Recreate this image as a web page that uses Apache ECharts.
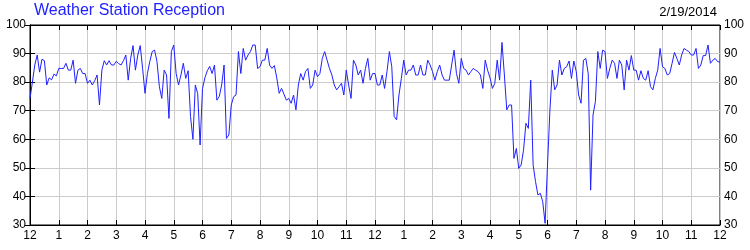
<!DOCTYPE html>
<html><head><meta charset="utf-8">
<script src="https://cdn.jsdelivr.net/npm/echarts@6/dist/echarts.min.js"></script>
<style>html,body{margin:0;padding:0;background:#fff}#c{width:750px;height:250px}</style>
</head><body><div id="c"></div>
<script>
// Reception (%) sampled every 5 minutes, hour by hour (12 samples per hour), from 12 AM to 12 AM
const hour00 = [74.3, 80, 86, 89.5, 83.5, 88, 87.5, 79, 81.5, 80.8, 82.8, 82.2];
const hour01 = [84.8, 84.8, 84.8, 86.6, 84.2, 84.2, 87.7, 79.6, 84.2, 84.8, 83, 83];
const hour02 = [79.6, 80.7, 79, 80.5, 82.5, 72, 84.2, 87.5, 86, 87.5, 86, 86];
const hour03 = [87.3, 86.5, 86, 87.5, 89.5, 80.7, 88.3, 92.8, 84.2, 89.5, 92.8, 84.8];
const hour04 = [76.1, 83, 87.2, 90.7, 91.2, 87.2, 78.4, 74.3, 84.2, 82.5, 67.3, 90.7];
const hour05 = [93, 83, 79, 82.5, 86.6, 81.3, 84, 68, 60, 79, 76, 58];
const hour06 = [77.8, 81.5, 84, 85.5, 83, 86, 73.7, 75, 79, 86, 60.3, 61.5];
const hour07 = [72, 74.9, 75.5, 90.7, 83, 91.8, 87.7, 89.5, 90.7, 93, 93, 84.8];
const hour08 = [85.4, 87.7, 87.7, 91.8, 86, 84.8, 85.8, 81.5, 76.1, 77.8, 75.8, 73.7];
const hour09 = [74.3, 72.6, 75.5, 70.3, 79, 83, 80.7, 83.7, 84.8, 77.8, 79, 84.2];
const hour10 = [81.9, 83, 88.3, 90.7, 87.7, 84.8, 82.5, 79, 77.3, 78.4, 79.6, 75.5];
const hour11 = [84.2, 79, 74.3, 87.7, 86, 82.5, 84.2, 79.6, 84.8, 88.3, 80.7, 83];
const hour12 = [83, 79, 79, 82.5, 77.8, 83.7, 90.7, 85.4, 68, 66.8, 75.5, 81.3];
const hour13 = [87.7, 82.5, 84.2, 84.2, 86, 82.5, 82.5, 86, 82.5, 82.5, 87.7, 86];
const hour14 = [83.7, 80.7, 83.7, 86, 82.5, 80.7, 80.7, 80.7, 86, 91.2, 83, 79.6];
const hour15 = [88.3, 84.8, 84.2, 82.5, 83.7, 84.8, 84.2, 83.7, 82.5, 77.8, 87.7, 84.2];
const hour16 = [81.5, 77.8, 79.6, 87.7, 80.7, 93.9, 82.5, 70.3, 72, 72, 53.3, 56.8];
const hour17 = [49.8, 51, 56.2, 65.6, 63.8, 80.7, 51, 45.2, 40.5, 41.1, 38.2, 30.6];
const hour18 = [51, 70, 84.2, 77.3, 79, 87.7, 82.5, 84.8, 85.4, 87.4, 81.3, 87.4];
const hour19 = [83.7, 75.5, 72.6, 87.7, 88.3, 83, 42.2, 68.5, 73.2, 90.7, 84.8, 91.2];
const hour20 = [90.7, 81.3, 84.8, 87.7, 86.6, 81.3, 87.7, 86, 77.3, 87.7, 84.2, 89.3];
const hour21 = [84.2, 84.2, 80.7, 84, 81.3, 80.7, 84, 78.4, 77.3, 81.3, 84.2, 91.8];
const hour22 = [85.4, 84.8, 82.5, 83, 86.6, 90.4, 88.3, 86, 89.5, 91.8, 91.2, 90.7];
const hour23 = [89.5, 89.5, 91.8, 84.8, 86, 89.3, 89.3, 93, 86.6, 87.7, 88.3, 87.2];
const hour24 = [87];
const hourTickLabels = ['12','1','2','3','4','5','6','7','8','9','10','11','12','1','2','3','4','5','6','7','8','9','10','11','12'];
const titleText = 'Weather Station Reception';
const dateText = '2/19/2014';
const samplesPerHour = 12;

const hourly = [hour00,hour01,hour02,hour03,hour04,hour05,hour06,hour07,hour08,hour09,hour10,hour11,
  hour12,hour13,hour14,hour15,hour16,hour17,hour18,hour19,hour20,hour21,hour22,hour23,hour24];
const data = [];
hourly.forEach((arr, h) => arr.forEach((v, k) => data.push([h + k / samplesPerHour, v])));

const font = 'Liberation Sans';
const chart = echarts.init(document.getElementById('c'), null, {renderer: 'canvas'});
const yAxisBase = {
  type: 'value', min: 30, max: 100, interval: 10,
  axisLine: {show: true, lineStyle: {color: '#000', width: 1}},
  axisTick: {show: true, inside: true, length: 5, lineStyle: {color: '#000'}},
  axisLabel: {color: '#000', fontFamily: font, fontSize: 12, margin: 4},
  splitLine: {show: true, lineStyle: {color: '#cccccc', width: 1}}
};
chart.setOption({
  animation: false,
  backgroundColor: '#fff',
  title: [
    {text: titleText, left: 34, top: 3, padding: 0, textStyle: {color: '#2222ff', fontFamily: font, fontSize: 16, fontWeight: 'normal'}},
    {text: dateText, right: 33, top: 6, padding: 0, textStyle: {color: '#000', fontFamily: font, fontSize: 13, fontWeight: 'normal'}}
  ],
  grid: {left: 30, right: 30, top: 25, bottom: 25, show: true, borderColor: '#000', borderWidth: 1},
  xAxis: [{
    type: 'value', min: 0, max: 24, interval: 1, position: 'bottom',
    axisLine: {show: true, lineStyle: {color: '#000'}},
    axisTick: {show: true, inside: true, length: 5, lineStyle: {color: '#000'}},
    axisLabel: {color: '#000', fontFamily: font, fontSize: 12, margin: 5, formatter: v => hourTickLabels[v]},
    splitLine: {show: true, lineStyle: {color: '#cccccc', width: 1}}
  }, {
    type: 'value', min: 0, max: 24, interval: 1, position: 'top',
    axisLine: {show: true, lineStyle: {color: '#000'}},
    axisTick: {show: true, inside: true, length: 5, lineStyle: {color: '#000'}},
    axisLabel: {show: false}, splitLine: {show: false}
  }],
  yAxis: [Object.assign({}, yAxisBase, {position: 'left'}),
          Object.assign({}, yAxisBase, {position: 'right', splitLine: {show: false}})],
  series: [{
    type: 'line', data: data, xAxisIndex: 0, yAxisIndex: 0,
    showSymbol: false, symbol: 'none',
    lineStyle: {color: '#2020ff', width: 1}
  }]
});
</script></body></html>
